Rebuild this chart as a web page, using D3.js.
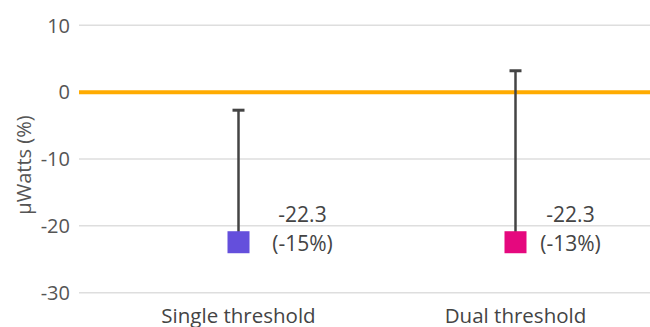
<!DOCTYPE html>
<html>
<head>
<meta charset="utf-8">
<script src="https://cdn.jsdelivr.net/npm/d3@7"></script>
<style>
  html, body { margin: 0; padding: 0; background: #fff; }
  svg { display: block; font-family: "Open Sans", Lato, sans-serif; font-weight: 400; }
</style>
</head>
<body>
<svg id="chart" width="650" height="327"></svg>
<script>
// Change in power by threshold mode
const categories = ["Single threshold", "Dual threshold"];
const values = [-22.3, -22.3];
const percentLabels = ["(-15%)", "(-13%)"];
const upperBounds = [-2.7, 3.2];
const colors = ["#644fdc", "#e5087e"];
const yTicks = [10, 0, -10, -20, -30];

const width = 650, height = 327;
const plotLeft = 79, plotRight = 650;
const labelShift = [64, 55];

const svg = d3.select("#chart");

const x = d3.scaleBand().domain(categories).range([100, 654]).padding(0);
const y = d3.scaleLinear().domain([-30, 10]).range([292.7, 25.3]);

// gridlines and tick labels
const grid = svg.append("g");
grid.selectAll("line").data(yTicks.filter(d => d !== 0)).join("line")
  .attr("x1", plotLeft).attr("x2", plotRight)
  .attr("y1", d => y(d)).attr("y2", d => y(d))
  .attr("stroke", "#dedede").attr("stroke-width", 1.5);

grid.selectAll("text").data(yTicks).join("text")
  .attr("x", 70).attr("y", d => y(d))
  .attr("dy", "0.36em")
  .attr("text-anchor", "end")
  .attr("font-size", 20)
  .attr("fill", "#555")
  .text(d => d);

// zero reference line
svg.append("line")
  .attr("x1", plotLeft).attr("x2", plotRight)
  .attr("y1", y(0)).attr("y2", y(0))
  .attr("stroke", "#ffab00").attr("stroke-width", 4);

// axis title
svg.append("text")
  .attr("transform", `translate(31,${165}) rotate(-90)`)
  .attr("text-anchor", "middle")
  .attr("font-size", 20)
  .attr("fill", "#555")
  .text("µWatts (%)");

// category labels
svg.selectAll(".cat").data(categories).join("text")
  .attr("class", "cat")
  .attr("x", d => x(d) + x.bandwidth() / 2)
  .attr("y", 323)
  .attr("text-anchor", "middle")
  .attr("font-size", 20.5)
  .attr("fill", "#444")
  .text(d => d);

const cx = (i) => x(categories[i]) + x.bandwidth() / 2;

// upper error bars
const err = svg.append("g");
values.forEach((v, i) => {
  err.append("line")
    .attr("x1", cx(i)).attr("x2", cx(i))
    .attr("y1", y(v)).attr("y2", y(upperBounds[i]))
    .attr("stroke", "#444").attr("stroke-width", 2.5);
  err.append("line")
    .attr("x1", cx(i) - 6).attr("x2", cx(i) + 6)
    .attr("y1", y(upperBounds[i])).attr("y2", y(upperBounds[i]))
    .attr("stroke", "#444").attr("stroke-width", 3);
});

// point markers
const size = 22;
svg.selectAll(".pt").data(values).join("rect")
  .attr("class", "pt")
  .attr("x", (d, i) => cx(i) - size / 2)
  .attr("y", d => y(d) - size / 2 + 1)
  .attr("width", size).attr("height", size)
  .attr("fill", (d, i) => colors[i]);

// value labels
values.forEach((v, i) => {
  const t = svg.append("text")
    .attr("x", cx(i) + labelShift[i])
    .attr("text-anchor", "middle")
    .attr("font-size", 21)
    .attr("fill", "#444");
  t.append("tspan").attr("x", cx(i) + labelShift[i]).attr("y", 222).text(v.toFixed(1));
  t.append("tspan").attr("x", cx(i) + labelShift[i]).attr("y", 251).text(percentLabels[i]);
});
</script>
</body>
</html>
